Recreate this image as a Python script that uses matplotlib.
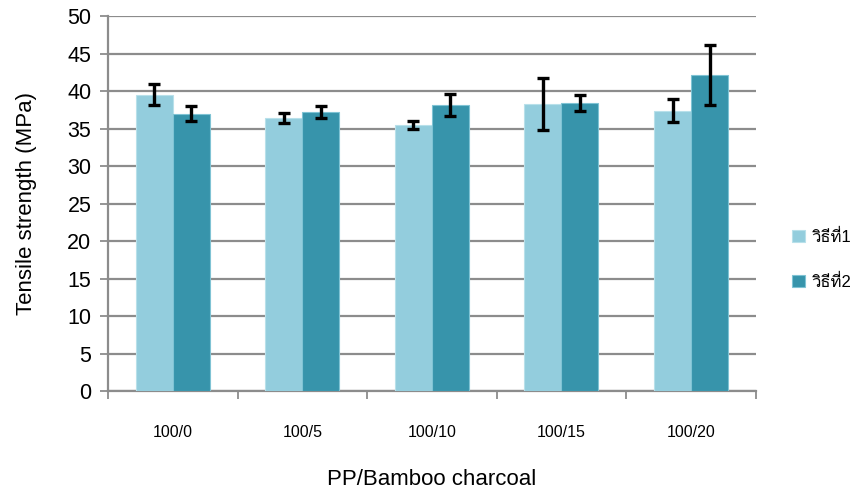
import matplotlib
matplotlib.use("Agg")
import matplotlib.pyplot as plt
import numpy as np
from matplotlib import font_manager
from matplotlib.ft2font import FT2Font

categories = ["100/0", "100/5", "100/10", "100/15", "100/20"]
method1 = [39.5, 36.4, 35.5, 38.3, 37.4]
method1_err = [1.4, 0.7, 0.5, 3.5, 1.5]
method2 = [37.0, 37.2, 38.1, 38.4, 42.2]
method2_err = [0.95, 0.8, 1.45, 1.05, 4.0]
series_labels = ["วิธีที่1", "วิธีที่2"]


def find_thai_font():
    # first installed font that actually has Thai glyphs
    for f in font_manager.fontManager.ttflist:
        try:
            if 0x0E27 in FT2Font(f.fname).get_charmap():
                return f.name
        except Exception:
            continue
    return None


thai = find_thai_font()
families = ["Liberation Sans", "DejaVu Sans"]
if thai:
    families.append(thai)
plt.rcParams["font.family"] = families

GRID = "#8c8c8c"
LIGHT = "#93cddd"
DARK = "#3794ab"

fig = plt.figure(figsize=(8.54, 4.94), dpi=100)
ax = fig.add_axes([0.1265, 0.2075, 0.7585, 0.7601])

x = np.arange(len(categories))
w = 0.2857
err_kw = dict(ecolor="black", elinewidth=2.4, capsize=4, capthick=2.4)
ax.bar(x - w / 2, method1, w, yerr=method1_err, color=LIGHT,
       edgecolor="#b8e0ea", linewidth=0.8, error_kw=err_kw,
       label=series_labels[0], zorder=3)
ax.bar(x + w / 2, method2, w, yerr=method2_err, color=DARK,
       edgecolor="#7fc3d4", linewidth=0.8, error_kw=err_kw,
       label=series_labels[1], zorder=3)

ax.set_xlim(-0.5, len(categories) - 0.5)
ax.set_ylim(0, 50)
ax.set_yticks(np.arange(0, 51, 5))
ax.yaxis.grid(True, color=GRID, linewidth=1.6, zorder=0)
ax.set_axisbelow(True)

# ticks at category boundaries, labels at centers
ax.set_xticks(np.arange(len(categories) + 1) - 0.5)
ax.set_xticklabels([])
ax.set_xticks(x, minor=True)
ax.set_xticklabels(categories, minor=True, fontsize=11.5)
ax.tick_params(axis="x", which="major", length=6, width=1.3, color=GRID)
ax.tick_params(axis="x", which="minor", length=0, pad=24)
ax.tick_params(axis="y", length=6, width=1.3, color=GRID, labelsize=15.5, pad=6)

for s in ["top", "right"]:
    ax.spines[s].set_visible(False)
for s in ["left", "bottom"]:
    ax.spines[s].set_color(GRID)
    ax.spines[s].set_linewidth(1.6)

ax.set_ylabel("Tensile strength (MPa)", fontsize=16, labelpad=22)
ax.set_xlabel("PP/Bamboo charcoal", fontsize=16, labelpad=21)

ax.legend(loc="center left", bbox_to_anchor=(0.92, 0.475),
          bbox_transform=fig.transFigure, frameon=False, fontsize=12,
          handlelength=0.75, handleheight=0.75, handletextpad=0.4,
          labelspacing=1.7, borderaxespad=0)

fig.savefig("out.png", dpi=100)
